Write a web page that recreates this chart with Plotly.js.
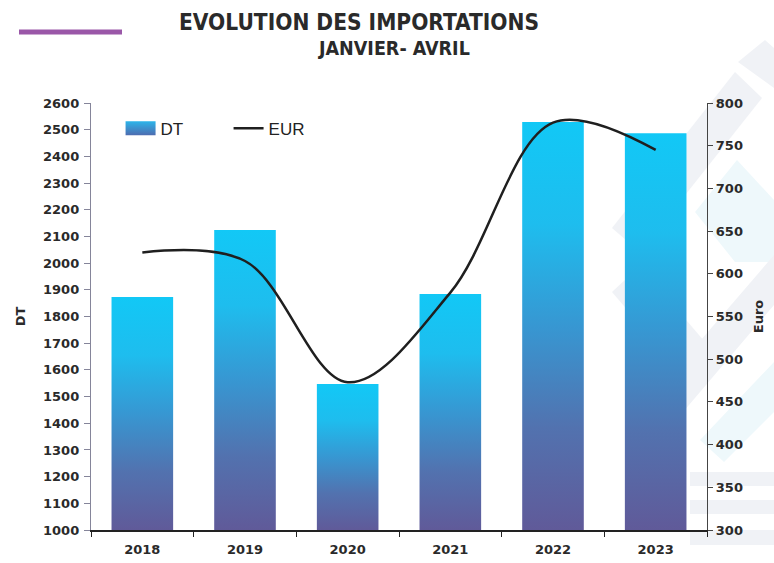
<!DOCTYPE html>
<html>
<head>
<meta charset="utf-8">
<script src="https://cdn.plot.ly/plotly-3.0.1.min.js"></script>
<style>
html,body{margin:0;padding:0;background:#fff;}
#chart{width:774px;height:563px;}
</style>
</head>
<body>
<div id="chart"></div>
<script>
const years = ['2018', '2019', '2020', '2021', '2022', '2023'];
const dtValues = [1873, 2124, 1547, 1884, 2529, 2487];
const eurValues = [625, 615, 473, 578, 777, 745];
const leftTicks = [1000,1100,1200,1300,1400,1500,1600,1700,1800,1900,2000,2100,2200,2300,2400,2500,2600];
const rightTicks = [300,350,400,450,500,550,600,650,700,750,800];

const tickFont = {family: 'DejaVu Sans, sans-serif', size: 13, color: '#2a2a2a', weight: 'bold'};

// plot area in pixels: left 91, right 707, top 103, bottom 530
function px(x, y) { return [(x - 91) / 616, (530 - y) / 427]; }
function poly(points, color) {
  const d = points.map(function (p, i) { const q = px(p[0], p[1]); return (i ? 'L' : 'M') + q[0] + ',' + q[1]; }).join(' ') + ' Z';
  return {type: 'path', xref: 'paper', yref: 'paper', path: d, fillcolor: color, line: {width: 0}, layer: 'below'};
}
const wmGray = '#F0F2F6';
const wmCyan = '#EEF8FB';

const traces = [
  {
    type: 'bar', name: 'DT', x: years, y: dtValues,
    marker: {color: '#2FA8DF', line: {width: 0}},
    width: 0.6, yaxis: 'y', hoverinfo: 'skip'
  },
  {
    type: 'scatter', mode: 'lines', name: 'EUR', x: years, y: eurValues,
    line: {color: '#1f1f1f', width: 2.5, shape: 'spline', smoothing: 1},
    yaxis: 'y2', hoverinfo: 'skip'
  }
];

const layout = {
  width: 774, height: 563,
  margin: {l: 91, r: 67, t: 103, b: 33},
  paper_bgcolor: '#ffffff', plot_bgcolor: 'rgba(0,0,0,0)',
  showlegend: true,
  legend: {
    orientation: 'h', x: 0.048, y: 0.982, xanchor: 'left', yanchor: 'top',
    font: {family: 'Liberation Sans, Arial, sans-serif', size: 17, color: '#222'},
    bgcolor: 'rgba(0,0,0,0)', traceorder: 'normal', entrywidth: 63
  },
  xaxis: {
    type: 'category', tickvals: years, ticktext: years,
    showgrid: false, zeroline: false,
    showline: true, linecolor: '#222', linewidth: 1.5,
    ticks: 'outside', ticklen: 5, tickcolor: '#222', tickson: 'boundaries',
    tickfont: tickFont, range: [-0.5, 5.5], ticklabelstandoff: 7
  },
  yaxis: {
    range: [1000, 2600], tickvals: leftTicks, ticktext: leftTicks.map(String),
    showgrid: false, zeroline: false,
    showline: true, linecolor: '#85859a', linewidth: 1.2,
    ticks: 'outside', ticklen: 6, tickcolor: '#85859a', ticklabelstandoff: 2,
    tickfont: tickFont,
    title: {text: 'DT', font: {family: 'DejaVu Sans, sans-serif', size: 13, color: '#2a2a2a', weight: 'bold'}, standoff: 14}
  },
  yaxis2: {
    overlaying: 'y', side: 'right',
    range: [300, 800], tickvals: rightTicks, ticktext: rightTicks.map(String),
    showgrid: false, zeroline: false,
    showline: true, linecolor: '#444', linewidth: 1.2,
    ticks: 'outside', ticklen: 5, tickcolor: '#444',
    tickfont: tickFont,
    title: {text: 'Euro', font: {family: 'DejaVu Sans, sans-serif', size: 13, color: '#2a2a2a', weight: 'bold'}, standoff: 12}
  },
  annotations: [
    {text: '<b>EVOLUTION DES IMPORTATIONS</b>', xref: 'paper', yref: 'paper',
     x: px(359, 22)[0], y: px(359, 22)[1], xanchor: 'center', yanchor: 'middle', showarrow: false,
     font: {family: 'DejaVu Sans Condensed, sans-serif', size: 22.5, color: '#2a2a2a'}},
    {text: '<b>JANVIER- AVRIL</b>', xref: 'paper', yref: 'paper',
     x: px(394, 48)[0], y: px(394, 48)[1], xanchor: 'center', yanchor: 'middle', showarrow: false,
     font: {family: 'DejaVu Sans Condensed, sans-serif', size: 19.5, color: '#2a2a2a'}}
  ],
  shapes: [
    {type: 'line', xref: 'paper', yref: 'paper',
     x0: px(19, 32)[0], x1: px(122, 32)[0], y0: px(19, 32)[1], y1: px(19, 32)[1],
     line: {color: '#9A57A8', width: 5}},
    poly([[612, 228], [735, 72], [762, 98], [640, 252]], wmGray),
    poly([[738, 62], [765, 40], [774, 48], [774, 88]], wmGray),
    poly([[695, 212], [737, 160], [774, 200], [774, 262], [735, 262]], wmCyan),
    poly([[612, 292], [640, 266], [722, 362], [694, 388]], wmGray),
    poly([[645, 405], [774, 255], [774, 305], [672, 425]], wmGray),
    poly([[700, 440], [774, 362], [774, 412], [724, 462]], wmCyan),
    poly([[690, 472], [774, 472], [774, 486], [690, 486]], wmGray),
    poly([[690, 500], [774, 500], [774, 514], [690, 514]], wmGray),
    poly([[690, 530], [774, 530], [774, 545], [690, 545]], wmGray)
  ]
};

Plotly.newPlot('chart', traces, layout, {staticPlot: true, displayModeBar: false}).then(function (gd) {
  const svg = gd.querySelector('svg.main-svg');
  const ns = 'http://www.w3.org/2000/svg';
  let defs = svg.querySelector('defs');
  if (!defs) { defs = document.createElementNS(ns, 'defs'); svg.insertBefore(defs, svg.firstChild); }
  const barStops = [[0, '#12C8F6'], [0.25, '#1EBDEE'], [0.5, '#3797D2'], [0.75, '#5272AF'], [1, '#605A99']];
  function makeGrad(id, stops, userSpace, y1, y2) {
    const g = document.createElementNS(ns, 'linearGradient');
    g.setAttribute('id', id);
    if (userSpace) {
      g.setAttribute('gradientUnits', 'userSpaceOnUse');
      g.setAttribute('x1', '0'); g.setAttribute('x2', '0');
      g.setAttribute('y1', String(y1)); g.setAttribute('y2', String(y2));
    } else {
      g.setAttribute('x1', '0'); g.setAttribute('y1', '0');
      g.setAttribute('x2', '0'); g.setAttribute('y2', '1');
    }
    stops.forEach(function (s) {
      const st = document.createElementNS(ns, 'stop');
      st.setAttribute('offset', s[0]);
      st.setAttribute('stop-color', s[1]);
      g.appendChild(st);
    });
    defs.appendChild(g);
  }
  const plotH = gd._fullLayout.yaxis._length;
  gd.querySelectorAll('.barlayer .point path').forEach(function (p, i) {
    const bb = p.getBBox();
    const id = 'barGrad' + i;
    makeGrad(id, barStops, true, bb.y, plotH);
    p.style.fill = 'url(#' + id + ')';
  });
  makeGrad('legGrad', [[0, '#2BB5EA'], [1, '#4E6CB0']], false);
  gd.querySelectorAll('.legend .legendpoints path').forEach(function (p) {
    p.setAttribute('d', 'M15,7H-15V-7H15Z');
    p.style.fill = 'url(#legGrad)';
  });
});
</script>
</body>
</html>
